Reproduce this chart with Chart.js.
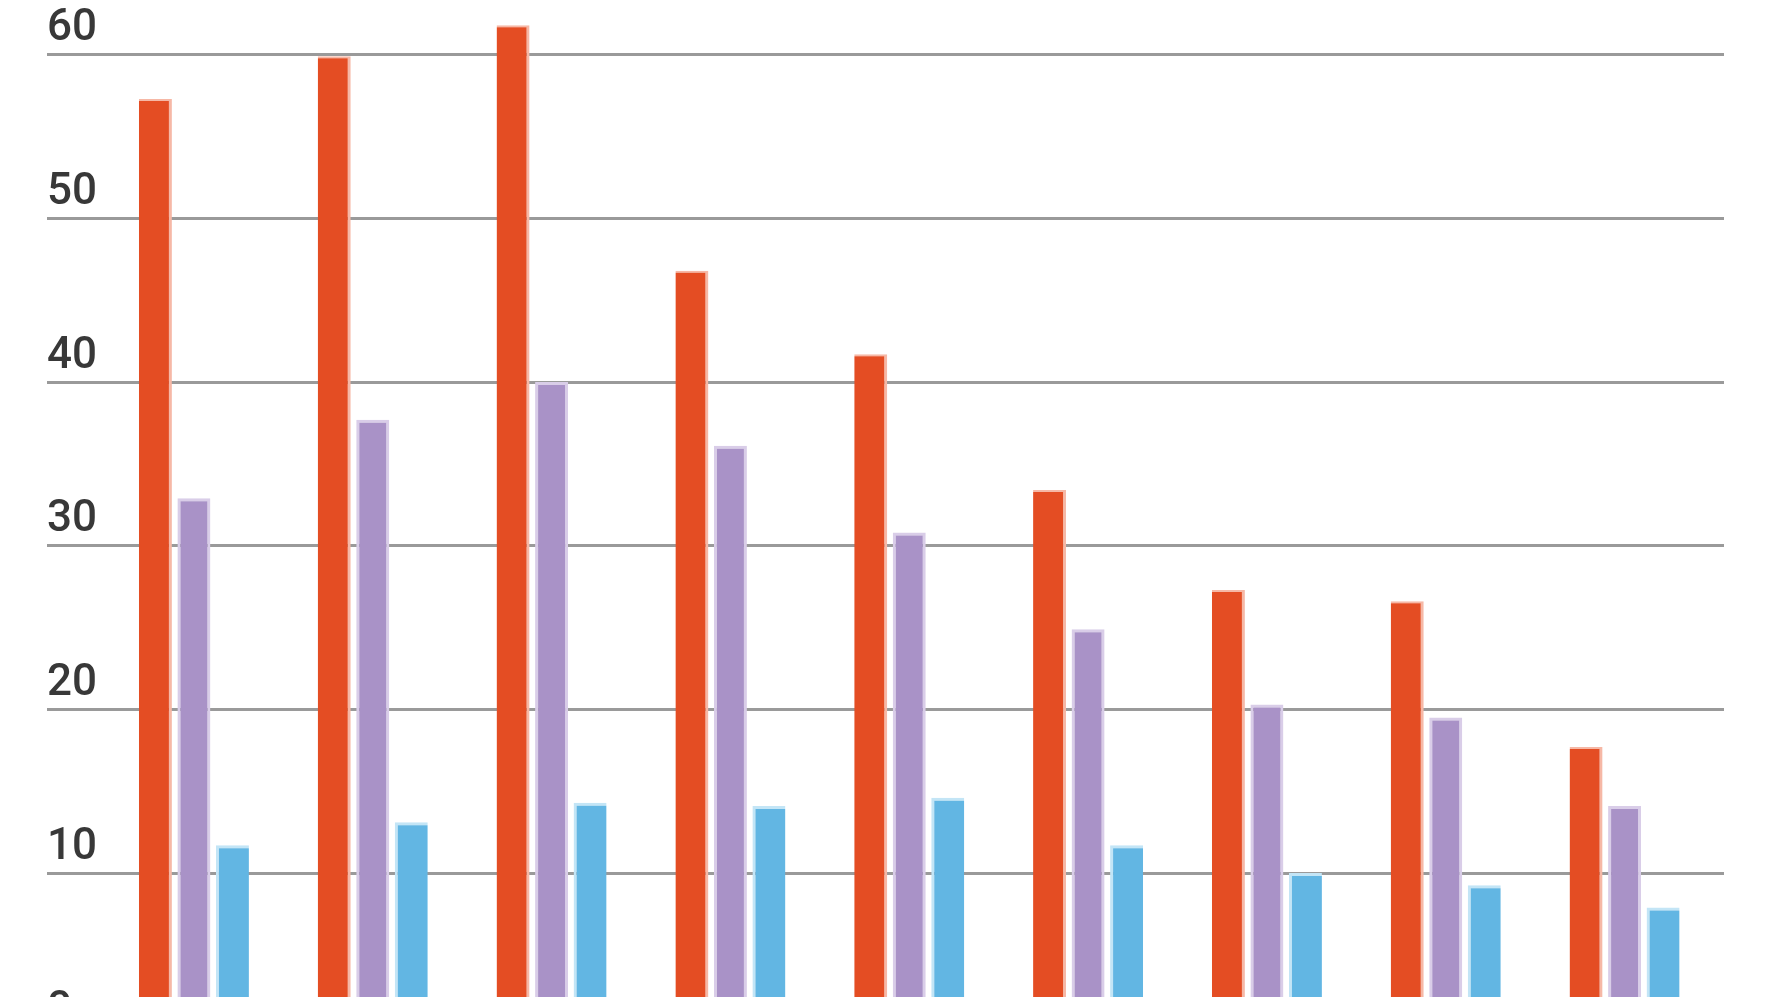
<!DOCTYPE html>
<html>
<head>
<meta charset="utf-8">
<script src="https://cdn.jsdelivr.net/npm/chart.js@4.4.1/dist/chart.umd.min.js"></script>
<style>
  html, body { margin: 0; padding: 0; background: #fff; overflow: hidden; }
  #wrap { position: relative; width: 1778px; height: 1060px; }
</style>
</head>
<body>
<div id="wrap"><canvas id="barChart"></canvas></div>
<script>
// ==============================
// Data
// ==============================
const categories = ["1", "2", "3", "4", "5", "6", "7", "8", "9"];
const seriesNames = ["Serie 1", "Serie 2", "Serie 3"];
const redValues    = [57.3, 59.9, 61.8, 46.8, 41.7, 33.4, 27.3, 26.6, 17.7];
const purpleValues = [32.9, 37.7, 40.0, 36.1, 30.8, 24.9, 20.3, 19.5, 14.1];
const blueValues   = [11.7, 13.1, 14.3, 14.1, 14.6, 11.7, 10.0, 9.25, 7.9];
const yTicks = [0, 10, 20, 30, 40, 50, 60];

const gridColor = '#9a9a9a';

// no extra room for the first/last tick label
function noLabelPadding(scale) {
  scale.paddingTop = 0;
  scale.paddingBottom = 0;
}

const ctx = document.getElementById("barChart").getContext("2d");
new Chart(ctx, {
  type: 'bar',
  data: {
    labels: categories,
    datasets: [
      {
        label: seriesNames[0],
        data: redValues,
        backgroundColor: '#e44d23',
        borderColor: '#f6b8a6',
        borderWidth: { top: 2, right: 3, left: 0, bottom: 0 },
        borderSkipped: 'start'
      },
      {
        label: seriesNames[1],
        data: purpleValues,
        backgroundColor: '#a992c7',
        borderColor: '#d9cde8',
        borderWidth: { top: 3, right: 3, left: 3, bottom: 0 },
        borderSkipped: 'start'
      },
      {
        label: seriesNames[2],
        data: blueValues,
        backgroundColor: '#62b6e3',
        borderColor: '#c3e5f6',
        borderWidth: { top: 3, right: 0, left: 3, bottom: 0 },
        borderSkipped: 'start'
      }
    ]
  },
  options: {
    responsive: true,
    maintainAspectRatio: false,
    animation: false,
    layout: { padding: { left: 47, right: 54, top: 5.6, bottom: 23.3 } },
    datasets: { bar: { categoryPercentage: 0.646, barPercentage: 0.857 } },
    plugins: { legend: { display: false }, tooltip: { enabled: false } },
    scales: {
      x: { display: false },
      y: {
        position: 'left',
        min: 0,
        max: 63,
        afterBuildTicks: (scale) => { scale.ticks = yTicks.map(v => ({ value: v })); },
        afterFit: (scale) => { scale.width = 57.5; noLabelPadding(scale); },
        border: { display: false },
        grid: { color: gridColor, lineWidth: 3, drawTicks: true, tickLength: 57.5, tickColor: gridColor, tickWidth: 3 },
        ticks: {
          crossAlign: 'far',
          labelOffset: -25.5,
          padding: 0,
          color: '#383838',
          font: { family: 'Roboto', size: 44, weight: 500 }
        }
      },
      yRight: {
        position: 'right',
        min: 0,
        max: 63,
        afterBuildTicks: (scale) => { scale.ticks = yTicks.map(v => ({ value: v })); },
        afterFit: (scale) => { scale.width = 10; noLabelPadding(scale); },
        border: { display: false },
        grid: { drawOnChartArea: false, drawTicks: true, tickLength: 10, tickColor: gridColor, tickWidth: 3 },
        ticks: { display: false }
      }
    }
  }
});
</script>
</body>
</html>
